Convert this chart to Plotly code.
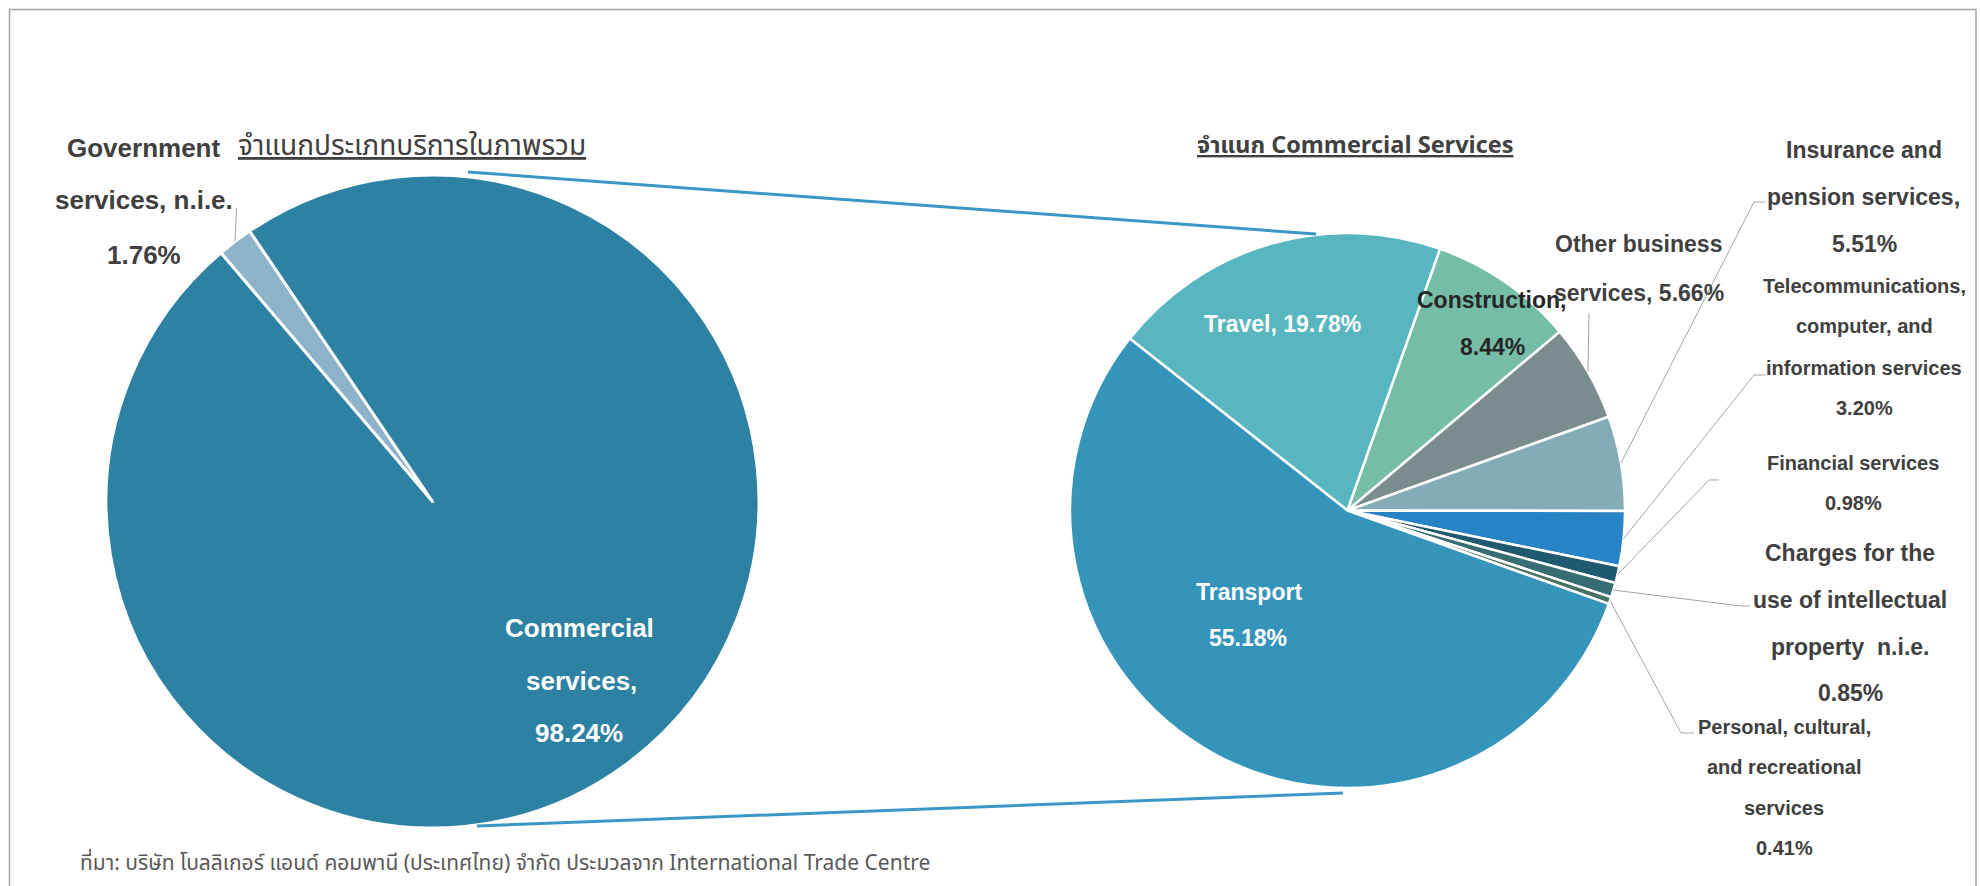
import math
import plotly.graph_objects as go

W, H = 1980, 886

# ---------------- data ----------------
overall_labels = ["Government services, n.i.e.", "Commercial services"]
overall_values = [1.76, 98.24]
overall_colors = ["#8DB3CB", "#2D81A2"]

commercial_labels = [
    "Travel",
    "Construction",
    "Other business services",
    "Insurance and pension services",
    "Telecommunications, computer, and information services",
    "Financial services",
    "Charges for the use of intellectual property n.i.e.",
    "Personal, cultural, and recreational services",
    "Transport",
]
commercial_values = [19.78, 8.44, 5.66, 5.51, 3.20, 0.98, 0.85, 0.41, 55.18]
commercial_colors = ["#58B6C0", "#75BDA7", "#7A8C8E", "#84ACB6", "#2683C6",
                     "#1F5970", "#356D73", "#467164", "#3494BA"]

title_left = "จำแนกประเภทบริการในภาพรวม"
title_right = "จำแนก Commercial Services"
source_text = "ที่มา: บริษัท โบลลิเกอร์ แอนด์ คอมพานี (ประเทศไทย) จำกัด ประมวลจาก International Trade Centre"

# ---------------- layout geometry (pixels) ----------------
L_CX, L_CY, L_R, L_ROT = 432.5, 501.5, 326.5, -40.4
R_CX, R_CY, R_R, R_ROT = 1347.5, 510.5, 277.5, -51.7

FONT = "Liberation Sans, Arial, sans-serif"
THAI_FONT = "Noto Sans Thai, Tahoma, Liberation Sans, sans-serif"


def px(x):
    return x / W


def py(y):
    return 1 - y / H


def domain(cx, cy, r):
    return dict(x=[px(cx - r), px(cx + r)], y=[py(cy + r), py(cy - r)])


def mid_edge(values, idx, rot, cx, cy, r):
    tot = sum(values)
    a = rot + 360.0 * (sum(values[:idx]) + values[idx] / 2.0) / tot
    t = math.radians(a)
    return cx + r * math.sin(t), cy - r * math.cos(t)


fig = go.Figure()
fig.add_trace(go.Pie(
    labels=overall_labels, values=overall_values, sort=False,
    direction="clockwise", rotation=L_ROT, textinfo="none", hoverinfo="label+percent",
    marker=dict(colors=overall_colors, line=dict(color="white", width=3)),
    domain=domain(L_CX, L_CY, L_R), showlegend=False,
))
fig.add_trace(go.Pie(
    labels=commercial_labels, values=commercial_values, sort=False,
    direction="clockwise", rotation=R_ROT, textinfo="none", hoverinfo="label+percent",
    marker=dict(colors=commercial_colors, line=dict(color="white", width=2.5)),
    domain=domain(R_CX, R_CY, R_R), showlegend=False,
))

annotations = []
shapes = []


def add_text(txt, x, y, size, color, bold=True, family=FONT, xanchor="center"):
    annotations.append(dict(
        text=("<b>%s</b>" % txt) if bold else txt,
        x=px(x), y=py(y), xref="paper", yref="paper", showarrow=False,
        xanchor=xanchor, yanchor="middle",
        font=dict(size=size, color=color, family=family),
    ))


def pct(v):
    return "%.2f%%" % v


# label specs: (series, index, [(line template, x, y)], size, color, leader points)
label_specs = [
    ("L", 0, [("Government", 143.5, 148), ("services, n.i.e.", 144, 200), ("{p}", 143.5, 255)],
     26, "#404040", [(236.6, 208)]),
    ("L", 1, [("Commercial", 579, 628), ("services,", 581, 681), ("{p}", 579, 733)],
     26, "#FFFFFF", None),
    ("R", 0, [("Travel, {p}", 1282, 324)], 23, "#FFFFFF", None),
    ("R", 8, [("Transport", 1249, 592), ("{p}", 1248, 638)], 23, "#FFFFFF", None),
    ("R", 1, [("Construction,", 1492, 300), ("{p}", 1492, 347)], 23, "#262626", None),
    ("R", 2, [("Other business", 1638.5, 244), ("services, {p}", 1638.5, 293)], 23, "#404040",
     [(1589, 313)]),
    ("R", 3, [("Insurance and", 1864, 150), ("pension services,", 1863, 197), ("{p}", 1864, 244)],
     23, "#404040", [(1754, 202), (1765, 202)]),
    ("R", 4, [("Telecommunications,", 1864, 286), ("computer, and", 1864, 326),
              ("information services", 1864, 368), ("{p}", 1864, 408)],
     20, "#404040", [(1754, 375), (1765, 375)]),
    ("R", 5, [("Financial services", 1853, 463), ("{p}", 1853, 503)], 20, "#404040",
     [(1709, 480), (1719, 480)]),
    ("R", 6, [("Charges for the", 1850, 553), ("use of intellectual", 1850, 600),
              ("property  n.i.e.", 1850, 647), ("{p}", 1850, 693)], 23, "#404040",
     [(1741, 606), (1750, 606)]),
    ("R", 7, [("Personal, cultural,", 1784, 727), ("and recreational", 1784, 767),
              ("services", 1784, 808), ("{p}", 1784, 848)], 20, "#404040",
     [(1681, 733), (1694, 733)]),
]

for series, idx, lines, size, color, leader in label_specs:
    if series == "L":
        vals, rot, cx, cy, r = overall_values, L_ROT, L_CX, L_CY, L_R
    else:
        vals, rot, cx, cy, r = commercial_values, R_ROT, R_CX, R_CY, R_R
    for tmpl, x, y in lines:
        add_text(tmpl.replace("{p}", pct(vals[idx])).replace("  ", "&nbsp; "), x, y, size, color)
    if leader:
        sx, sy = mid_edge(vals, idx, rot, cx, cy, r)
        pts = [(sx, sy)] + leader
        path = "M " + " L ".join("%.5f,%.5f" % (px(a), py(b)) for a, b in pts)
        shapes.append(dict(type="path", path=path, xref="paper", yref="paper",
                           line=dict(color="#A6A6A6", width=1)))

# titles
add_text("<u>%s</u>" % title_left, 412, 146, 28, "#404040", bold=False, family=THAI_FONT)
add_text("<u>%s</u>" % title_right, 1355, 146, 23.5, "#404040", bold=True, family=THAI_FONT)

# source
add_text(source_text, 78, 863, 21, "#595959", bold=False, family=THAI_FONT, xanchor="left")

# connector lines between the pies
for (x0, y0, x1, y1) in [(468, 172, 1316, 234), (477, 826, 1343, 793)]:
    shapes.append(dict(type="line", xref="paper", yref="paper",
                       x0=px(x0), y0=py(y0), x1=px(x1), y1=py(y1),
                       line=dict(color="#3A97C6", width=3)))

# outer frame
shapes.append(dict(type="rect", xref="paper", yref="paper",
                   x0=px(9.5), y0=py(900), x1=px(1976), y1=py(9.5),
                   line=dict(color="#A6A6A6", width=1.5), fillcolor="rgba(0,0,0,0)",
                   layer="below"))

fig.update_layout(
    width=W, height=H, autosize=False,
    margin=dict(l=0, r=0, t=0, b=0),
    paper_bgcolor="white", plot_bgcolor="white",
    showlegend=False,
    annotations=annotations, shapes=shapes,
    font=dict(family=FONT),
)

fig.write_html("out.html", config={"displayModeBar": False},
               post_script="document.body.style.margin='0';document.body.style.overflow='hidden';")
